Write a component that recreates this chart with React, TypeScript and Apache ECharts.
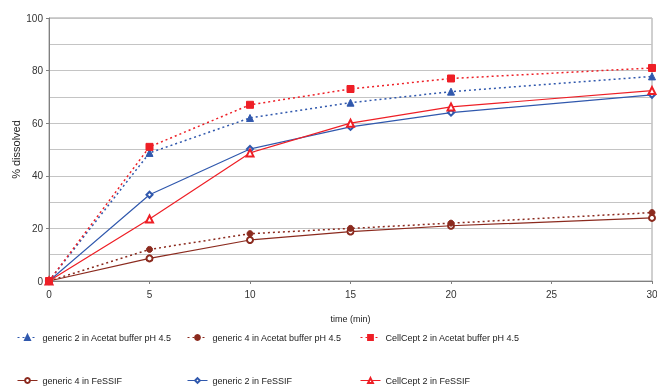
import React, { useEffect, useRef } from "react";
import * as echarts from "echarts";

const times = [0, 5, 10, 15, 20, 30];
const generic2Acetat = [0, 48.7, 62, 67.8, 72, 77.8];
const generic4Acetat = [0, 12, 18, 20, 22, 26];
const cellcept2Acetat = [0, 51, 67, 73, 77, 81];
const generic4FeSSIF = [0, 8.6, 15.6, 18.8, 21, 24];
const generic2FeSSIF = [0, 32.8, 50.2, 58.6, 64, 70.8];
const cellcept2FeSSIF = [0, 23.6, 48.7, 60, 66.2, 72.4];

const names = [
  "generic 2 in Acetat buffer pH 4.5",
  "generic 4 in Acetat buffer pH 4.5",
  "CellCept 2 in Acetat buffer pH 4.5",
  "generic 4 in FeSSIF",
  "generic 2 in FeSSIF",
  "CellCept 2 in FeSSIF",
];

const BLUE = "#3058ad";
const RED = "#ee1f26";
const DARK = "#8b2a1e";
const FONT = "'Liberation Sans', Arial, sans-serif";

function pairs(v: number[]) {
  return times.map((t, i) => [t, v[i]]);
}

export default function App() {
  const ref = useRef<HTMLDivElement>(null);
  useEffect(() => {
    if (!ref.current) return;
    const chart = echarts.init(ref.current, undefined, { renderer: "svg" });
    const dotted = [2, 3];
    const mk = (
      name: string,
      data: number[],
      color: string,
      symbol: string,
      size: number,
      dashed: boolean,
      z: number
    ) => ({
      type: "line",
      name,
      data: pairs(data),
      symbol,
      symbolSize: size,
      z,
      lineStyle: { color, width: dashed ? 1.5 : 1.2, type: dashed ? dotted : "solid" },
      itemStyle: { color, borderColor: color, borderWidth: 1 },
    });
    const legendPos = [
      [17, 333],
      [187, 333],
      [360, 333],
      [17, 376],
      [187, 376],
      [360, 376],
    ];
    chart.setOption({
      animation: false,
      textStyle: { fontFamily: FONT },
      grid: {
        left: 49,
        right: 5,
        top: 18,
        bottom: 107,
        containLabel: false,
        outerBoundsMode: "none",
        show: true,
        borderColor: "#a0a0a0",
        borderWidth: 1,
      },
      legend: legendPos.map((p, i) => ({
        left: p[0],
        top: p[1],
        data: [names[i]],
        itemWidth: 20,
        itemHeight: 6,
        padding: 0,
        lineStyle: { width: 1 },
        textStyle: { fontSize: 9, color: "#222", fontFamily: FONT },
      })),
      xAxis: {
        type: "value",
        min: 0,
        max: 30,
        interval: 5,
        name: "time (min)",
        nameLocation: "middle",
        nameGap: 33,
        nameTextStyle: { fontSize: 9, color: "#222", fontFamily: FONT },
        axisLine: { lineStyle: { color: "#808080" } },
        axisTick: { show: true, length: 3, lineStyle: { color: "#808080" } },
        axisLabel: { fontSize: 10, color: "#333", margin: 8 },
        splitLine: { show: false },
      },
      yAxis: {
        type: "value",
        min: 0,
        max: 100,
        interval: 20,
        name: "% dissolved",
        nameLocation: "middle",
        nameGap: 28,
        nameMoveOverlap: false,
        nameTextStyle: { fontSize: 11, color: "#222", fontFamily: FONT },
        axisLine: { show: true, lineStyle: { color: "#808080" } },
        axisTick: { show: true, length: 3, lineStyle: { color: "#808080" } },
        axisLabel: { fontSize: 10, color: "#333", margin: 6 },
        splitLine: { show: true, lineStyle: { color: "#c4c4c4" } },
        minorTick: { show: false, splitNumber: 2 },
        minorSplitLine: { show: true, lineStyle: { color: "#c4c4c4" } },
      },
      series: [
        mk(names[0], generic2Acetat, BLUE, "triangle", 7, true, 3),
        mk(names[1], generic4Acetat, DARK, "circle", 6, true, 3),
        mk(names[2], cellcept2Acetat, RED, "rect", 7, true, 4),
        mk(names[3], generic4FeSSIF, DARK, "emptyCircle", 6, false, 2),
        mk(names[4], generic2FeSSIF, BLUE, "emptyDiamond", 6, false, 2),
        mk(names[5], cellcept2FeSSIF, RED, "emptyTriangle", 7, false, 2),
      ],
    });
    return () => chart.dispose();
  }, []);
  return (
    <div
      ref={ref}
      style={{ position: "fixed", left: 0, top: 0, width: 657, height: 388 }}
    />
  );
}
